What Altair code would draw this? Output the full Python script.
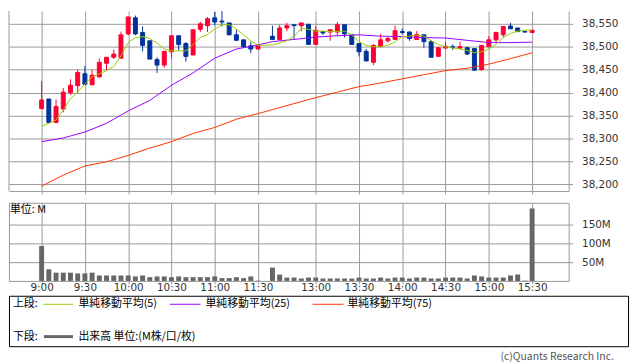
import altair as alt
import pandas as pd

# ---------------- data (5-minute bars) ----------------
times = ["9:00","9:05","9:10","9:15","9:20","9:25","9:30","9:35","9:40","9:45","9:50","9:55",
         "10:00","10:05","10:10","10:15","10:20","10:25","10:30","10:35","10:40","10:45","10:50","10:55",
         "11:00","11:05","11:10","11:15","11:20","11:25","11:30",
         "12:30","12:35","12:40","12:45","12:50","12:55","13:00","13:05","13:10","13:15","13:20","13:25",
         "13:30","13:35","13:40","13:45","13:50","13:55","14:00","14:05","14:10","14:15","14:20","14:25",
         "14:30","14:35","14:40","14:45","14:50","14:55","15:00","15:05","15:10","15:15","15:20","15:25","15:30"]
opens  = [38365,38386,38335,38364,38400,38415,38441,38417,38434,38464,38477,38475,
          38528,38563,38531,38513,38472,38460,38489,38524,38507,38482,38538,38546,
          38563,38556,38552,38526,38515,38502,38495,
          38523,38515,38541,38548,38546,38549,38505,38533,38532,38532,38548,38526,
          38507,38490,38466,38500,38513,38516,38533,38532,38516,38526,38511,38479,
          38497,38500,38497,38498,38496,38450,38500,38515,38526,38545,38541,38533,38531]
highs  = [38425,38386,38385,38410,38429,38450,38458,38450,38474,38477,38494,38533,
          38565,38568,38544,38513,38477,38490,38524,38524,38510,38537,38554,38565,
          38576,38582,38552,38537,38515,38511,38503,
          38546,38548,38552,38548,38552,38549,38545,38533,38537,38554,38548,38526,
          38507,38495,38506,38528,38521,38546,38540,38534,38534,38526,38514,38498,
          38511,38505,38511,38500,38496,38503,38523,38533,38544,38552,38541,38533,38536]
lows   = [38365,38335,38333,38357,38395,38398,38418,38417,38434,38448,38473,38475,
          38525,38525,38490,38473,38443,38454,38475,38492,38468,38482,38532,38532,
          38547,38544,38525,38514,38497,38486,38495,
          38516,38515,38534,38515,38534,38505,38505,38526,38513,38523,38520,38504,
          38479,38469,38460,38500,38509,38516,38527,38513,38516,38498,38477,38479,
          38497,38493,38495,38482,38449,38448,38500,38509,38520,38539,38533,38532,38531]
closes = [38384,38335,38370,38401,38416,38444,38418,38438,38466,38477,38484,38526,
          38565,38528,38503,38473,38460,38490,38524,38505,38479,38537,38550,38561,
          38554,38554,38526,38514,38500,38495,38503,
          38516,38541,38546,38546,38552,38505,38536,38530,38537,38548,38528,38505,
          38489,38469,38503,38515,38518,38535,38531,38518,38527,38511,38477,38498,
          38501,38499,38500,38484,38449,38503,38515,38531,38544,38539,38533,38532,38536]
volumes = [93,31,22,22,22,20,20,22,14.5,14.5,14.5,14.5,
           14.5,12,14.5,10,12,12,10,12,10,10,10,10,
           12,7.5,7.5,10,7.5,12,1,
           35.5,17,9,9,6.5,9,9,6.5,6.5,6.5,6.5,6.5,
           9,6.5,6.5,9,6.5,9,9,6.5,9,9,6.5,6.5,
           9,9,9,6.5,14.5,12,9,9,9,14.5,17,1,193]
sma5 = [38327,38333,38340,38362,38387,38401,38419,38434,38441,38448,38457,38480,
        38509,38520,38522,38518,38508,38495,38491,38491,38491,38505,38520,38527,
        38538,38548,38548,38539,38526,38513,38503,
        38504,38508,38513,38523,38540,38538,38534,38534,38533,38533,38534,38526,
        38511,38503,38500,38500,38503,38511,38522,38523,38526,38523,38513,38505,
        38500,38497,38495,38492,38487,38489,38495,38505,38520,38529,38534,38536,38536]
slow_times = ["9:00","9:15","9:30","9:45","10:00","10:15","10:30","10:45","11:00","11:15","11:30",
              "12:30","12:45","13:00","13:15","13:30","13:45","14:00","14:15","14:30","14:45",
              "15:00","15:15","15:30"]
sma25 = [38293,38301,38314,38333,38360,38383,38416,38443,38475,38495,38504,
         38511,38516,38521,38524,38526,38523,38522,38520,38519,38514,
         38509,38509,38510]
sma75 = [38196,38220,38240,38249,38263,38279,38293,38311,38324,38342,38354,
         38363,38376,38389,38401,38413,38421,38430,38439,38448,38453,
         38462,38474,38487]
price_ticks = [38200,38250,38300,38350,38400,38450,38500,38550]
vol_ticks = [50,100,150]
time_labels = ["9:00","9:30","10:00","10:30","11:00","11:30","13:00","13:30","14:00","14:30","15:00","15:30"]


def slot_of(t):
    h, m = map(int, t.split(":"))
    mins = h * 60 + m
    return (mins - 540) // 5 if mins <= 690 else (mins - 750) // 5 + 32


candles = pd.DataFrame({"time": times, "open": opens, "high": highs, "low": lows,
                        "close": closes, "volume": volumes, "sma5": sma5})
candles["slot"] = candles["time"].map(slot_of)
candles["lo"] = candles[["open", "close"]].min(axis=1)
candles["hi"] = candles[["open", "close"]].max(axis=1)
candles["dir"] = ["up" if c >= o else "down" for o, c in zip(opens, closes)]

slow = pd.DataFrame({"time": slow_times, "sma25": sma25, "sma75": sma75})
slow["slot"] = slow["time"].map(slot_of)

grid_slots = [slot_of(t) for t in time_labels]
label_expr = "[" + ",".join("'%s'" % t for t in time_labels) + "][indexof([" + \
    ",".join(str(s) for s in grid_slots) + "], datum.value)]"

RED, BLUE = "#ff0033", "#003399"
GRID = "#999999"
G5, G25, G75 = "#99cc00", "#9900ff", "#ff3300"
AXF = "DejaVu Sans"
JP = "Noto Sans CJK JP"
W = 566

xscale = alt.Scale(domain=[-4.524, 73.07], nice=False, zero=False, padding=0)
pscale = alt.Scale(domain=[38185.5, 38578], nice=False, zero=False, padding=0)
vscale = alt.Scale(domain=[0, 208], nice=False, zero=False, padding=0)
dscale = alt.Scale(domain=["up", "down"], range=[RED, BLUE])

x_price_axis = alt.Axis(values=grid_slots, labels=False, tickSize=3, tickColor=GRID,
                        grid=True, gridColor=GRID, domain=True, domainColor=GRID)
y_price_axis = alt.Axis(orient="right", values=price_ticks,
                        labelExpr="format(datum.value, ',')", tickSize=4,
                        tickColor=GRID, grid=True, gridColor=GRID, domain=True,
                        domainColor=GRID, labelFont=AXF, labelFontSize=10.5,
                        labelColor="#333", labelPadding=9)


def xp(field="slot"):
    return alt.X(field + ":Q", scale=xscale, axis=x_price_axis, title=None)


def yp(field):
    return alt.Y(field + ":Q", scale=pscale, axis=y_price_axis, title=None)


base = alt.Chart(candles)
wicks = base.mark_rule(strokeWidth=1, clip=True).encode(
    x=xp(), y=yp("low"), y2="high:Q",
    color=alt.Color("dir:N", scale=dscale, legend=None))
bodies = base.mark_bar(size=4, strokeWidth=1, clip=True).encode(
    x=xp(), y=yp("lo"), y2="hi:Q",
    color=alt.Color("dir:N", scale=dscale, legend=None),
    stroke=alt.Stroke("dir:N", scale=dscale, legend=None))
line5 = base.mark_line(color=G5, strokeWidth=1, clip=True).encode(x=xp(), y=yp("sma5"))
line25 = alt.Chart(slow).mark_line(color=G25, strokeWidth=1, clip=True).encode(x=xp(), y=yp("sma25"))
line75 = alt.Chart(slow).mark_line(color=G75, strokeWidth=1, clip=True).encode(x=xp(), y=yp("sma75"))
one = pd.DataFrame({"k": [0]})
left_border = alt.Chart(one).mark_rule(color=GRID, strokeWidth=1).encode(
    x=alt.value(0), y=alt.value(0), y2=alt.value(182))

price = alt.layer(wicks, bodies, line75, line25, line5, left_border).properties(
    width=W, height=182, view=alt.ViewBackground(stroke="transparent"))

# ---------------- volume panel ----------------
vbars = base.mark_bar(size=5, color="#666666").encode(
    x=alt.X("slot:Q", scale=xscale, title=None,
            axis=alt.Axis(values=grid_slots, labelExpr=label_expr, tickSize=3, tickColor=GRID,
                          grid=True, gridColor=GRID, domain=False, labelFont=AXF,
                          labelFontSize=10.5, labelColor="#333", labelPadding=-1.5)),
    y=alt.Y("volume:Q", scale=vscale, title=None,
            axis=alt.Axis(orient="right", values=vol_ticks, labelExpr="datum.value + 'M'",
                          tickSize=4, tickColor=GRID, grid=True, gridColor=GRID, domain=False,
                          labelFont=AXF, labelFontSize=10.5, labelColor="#333", labelPadding=9)))


def txt(s, x, y, size=11, color="#000", font=JP, align="left"):
    return alt.Chart(one).mark_text(text=s, align=align, baseline="middle", font=font,
                                    fontSize=size, color=color).encode(
        x=alt.value(x), y=alt.value(y))


def seg(x1, x2, y, color, w=1):
    return alt.Chart(one).mark_rule(color=color, strokeWidth=w).encode(
        x=alt.value(x1), x2=alt.value(x2), y=alt.value(y))


unit = txt("単位: M", 1, 7.5, size=11)
box = alt.Chart(one).mark_rect(fill="white", fillOpacity=0, stroke="#000", strokeWidth=1).encode(
    x=alt.value(0.5), x2=alt.value(626.5), y=alt.value(94.5), y2=alt.value(145.5))
legend = [
    box,
    txt("上段:", 4, 102.6), seg(34.7, 64.7, 102.6, G5), txt("単純移動平均(5)", 70.3, 102.6),
    seg(162.7, 193.7, 102.6, G25), txt("単純移動平均(25)", 198.7, 102.6),
    seg(307, 338.3, 102.6, G75), txt("単純移動平均(75)", 342.3, 102.6),
    txt("下段:", 4, 135.3), seg(35.3, 64.7, 135.3, "#666666", 3),
    txt("出来高 単位:(M株/口/枚)", 70.3, 135.3),
    txt("(c)Quants Research Inc.", 611.7, 155.5, size=10.5, color="#555", align="right"),
]

volume = alt.layer(vbars, unit, *legend).properties(
    width=W, height=79, view=alt.ViewBackground(stroke=GRID, strokeWidth=1))

chart = alt.vconcat(price, volume, spacing=7).properties(
    padding={"left": 0, "top": 0, "right": 0, "bottom": 0},
    background="white")

chart.save("out.html", embed_options={"renderer": "svg", "actions": False})
